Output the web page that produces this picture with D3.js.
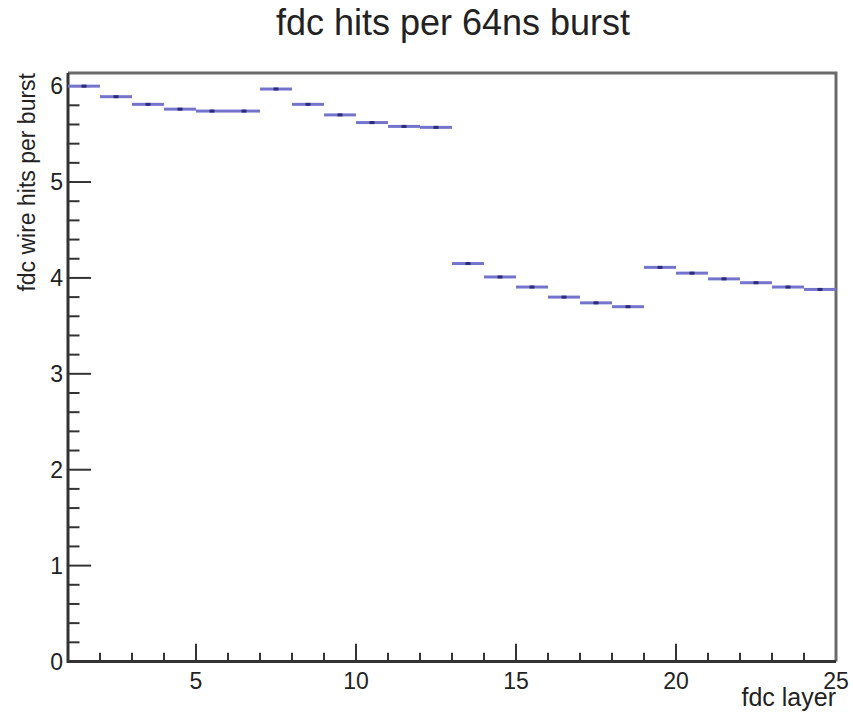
<!DOCTYPE html>
<html>
<head>
<meta charset="utf-8">
<script src="https://cdn.jsdelivr.net/npm/d3@7"></script>
<style>
  body { margin: 0; background: #fff; }
  text { font-family: "Liberation Sans", Arial, sans-serif; fill: #222; }
</style>
</head>
<body>
<div id="chart"></div>
<script>
// histogram values, one per fdc layer (bin i spans [i, i+1])
var layers = d3.range(1, 25)
var hits = [6.00, 5.89, 5.81, 5.76, 5.74, 5.74,
            5.97, 5.81, 5.70, 5.62, 5.58, 5.57,
            4.15, 4.01, 3.905, 3.80, 3.74, 3.70,
            4.11, 4.05, 3.99, 3.95, 3.905, 3.88]
var xTicks = [5, 10, 15, 20, 25]
var yTicks = [0, 1, 2, 3, 4, 5, 6]

var width = 853
var height = 714
var margin = { left: 68, right: 17, top: 73, bottom: 52.5 }

var svg = d3.select("#chart")
  .append("svg")
  .attr("width", width)
  .attr("height", height)

var x = d3.scaleLinear()
  .domain([1, 25])
  .range([margin.left, width - margin.right])

var y = d3.scaleLinear()
  .domain([0, 6.137])
  .range([height - margin.bottom, margin.top])

var x0 = x.range()[0], x1 = x.range()[1]
var y0 = y.range()[0], y1 = y.range()[1]

// frame (top / right)
svg.append("path")
  .attr("d", "M" + x0 + "," + y1 + "H" + x1 + "V" + y0)
  .attr("fill", "none")
  .attr("stroke", "#6a6a6a")
  .attr("stroke-width", 3)

// x ticks: minor every 1, major every 5
var xTickLen = 0.03 * (y0 - y1)
svg.append("g")
  .selectAll("line")
  .data(d3.range(2, 25))
  .enter()
  .append("line")
  .attr("x1", function (d) { return x(d) })
  .attr("x2", function (d) { return x(d) })
  .attr("y1", y0)
  .attr("y2", function (d) { return d % 5 == 0 ? y0 - xTickLen : y0 - xTickLen / 2 })
  .attr("stroke", "#333")
  .attr("stroke-width", 2)

// y ticks: minor every 0.2, major every 1
var yTickLen = 0.03 * (x1 - x0)
svg.append("g")
  .selectAll("line")
  .data(d3.range(1, 31))
  .enter()
  .append("line")
  .attr("x1", x0)
  .attr("x2", function (d) { return d % 5 == 0 ? x0 + yTickLen : x0 + yTickLen / 2 })
  .attr("y1", function (d) { return y(d / 5) })
  .attr("y2", function (d) { return y(d / 5) })
  .attr("stroke", "#333")
  .attr("stroke-width", 2)

// axis lines
svg.append("path")
  .attr("d", "M" + x0 + "," + y1 + "V" + y0 + "H" + x1)
  .attr("fill", "none")
  .attr("stroke", "#333")
  .attr("stroke-width", 3)

// tick labels
svg.append("g")
  .selectAll("text")
  .data(xTicks)
  .enter()
  .append("text")
  .attr("x", function (d) { return x(d) })
  .attr("y", y0 + 27)
  .attr("text-anchor", "middle")
  .style("font-size", "23px")
  .text(function (d) { return d })

svg.append("g")
  .selectAll("text")
  .data(yTicks)
  .enter()
  .append("text")
  .attr("x", x0 - 5)
  .attr("y", function (d) { return y(d) + 8 })
  .attr("text-anchor", "end")
  .style("font-size", "23px")
  .text(function (d) { return d })

// histogram bins
var bins = svg.append("g")
  .selectAll("g")
  .data(hits)
  .enter()
  .append("g")

bins.append("line")
  .attr("x1", function (d, i) { return x(layers[i]) })
  .attr("x2", function (d, i) { return x(layers[i] + 1) })
  .attr("y1", function (d) { return y(d) })
  .attr("y2", function (d) { return y(d) })
  .attr("stroke", "#7474cc")
  .attr("stroke-width", 3)

bins.append("rect")
  .attr("x", function (d, i) { return x(layers[i] + 0.5) - 2.5 })
  .attr("y", function (d) { return y(d) - 1.5 })
  .attr("width", 5)
  .attr("height", 3)
  .attr("fill", "#2b2b7a")

// titles
svg.append("text")
  .attr("x", 453)
  .attr("y", 35)
  .attr("text-anchor", "middle")
  .style("font-size", "36px")
  .text("fdc hits per 64ns burst")

svg.append("text")
  .attr("x", x1)
  .attr("y", 706)
  .attr("text-anchor", "end")
  .style("font-size", "25px")
  .text("fdc layer")

svg.append("text")
  .attr("transform", "translate(35," + y1 + ") rotate(-90)")
  .attr("text-anchor", "end")
  .style("font-size", "23px")
  .text("fdc wire hits per burst")
</script>
</body>
</html>
